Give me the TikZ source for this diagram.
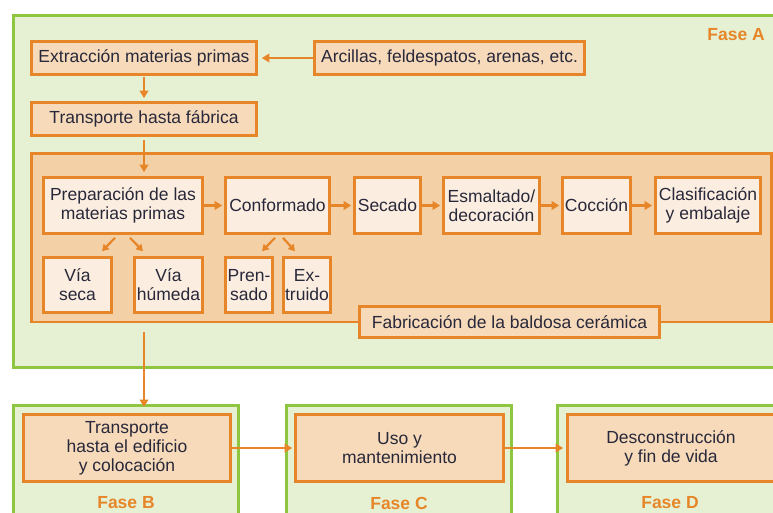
\documentclass[tikz,border=0pt]{standalone}
\usepackage{fontspec}
\setmainfont{Liberation Sans}
\usetikzlibrary{arrows.meta,calc}
\definecolor{oline}{RGB}{230,134,40}
\definecolor{boxfill}{RGB}{246,218,186}
\definecolor{bigfill}{RGB}{243,208,166}
\definecolor{innerfill}{RGB}{251,238,224}
\definecolor{gline}{RGB}{142,198,63}
\definecolor{gfill}{RGB}{230,241,212}
\definecolor{textc}{RGB}{40,40,58}
\newcommand{\fs}{\fontsize{17.5}{19}\selectfont}
\begin{document}
\begin{tikzpicture}[x=1pt,y=-1pt,
  box/.style={draw=oline, line width=2.6pt, fill=boxfill, text=textc, font=\fs,
    align=center, inner sep=1pt, anchor=center},
  wbox/.style={box, fill=innerfill},
  bigbox/.style={draw=oline, line width=2.6pt, fill=bigfill, inner sep=0pt},
  phase/.style={draw=gline, line width=3pt, fill=gfill, inner sep=0pt},
  phaselabel/.style={text=oline, font=\fs\bfseries, inner sep=0pt},
  arr/.style={draw=oline, line width=2.7pt, -{Triangle[length=7.5pt,width=8.5pt]}},
  sarr/.style={draw=oline, line width=2.2pt, -{Triangle[length=6.5pt,width=7.5pt]}}
]
\useasboundingbox (0,0) rectangle (773,512);
\clip (0,0) rectangle (773,512);

% phase frames
\node[phase, minimum width=786.5pt, minimum height=352pt] (faseA) at (406.75,191.5) {};
\node[phase, minimum width=225pt, minimum height=134.5pt] (faseB) at (126,472.75) {};
\node[phase, minimum width=225pt, minimum height=134.5pt] (faseC) at (399,472.75) {};
\node[phase, minimum width=225pt, minimum height=134.5pt] (faseD) at (670,472.75) {};

\node[phaselabel, anchor=east] (labA) at (765,34.5) {Fase A};
\node[phaselabel] (labB) at (126,503) {Fase B};
\node[phaselabel] (labC) at (399,503) {Fase C};
\node[phaselabel] (labD) at (670,503) {Fase D};

% big manufacturing box
\node[bigbox, minimum width=739.8pt, minimum height=168.5pt] (big) at (401.4,237.75) {};

% top boxes
\node[box, minimum width=225pt, minimum height=33pt] (ext) at (144,58) {Extracción materias primas};
\node[box, minimum width=270pt, minimum height=33pt] (arc) at (449.5,58) {Arcillas, feldespatos, arenas, etc.};
\node[box, minimum width=225pt, minimum height=33pt] (tfab) at (144,119) {Transporte hasta fábrica};

% process chain
\node[wbox, minimum width=159pt, minimum height=56pt] (prep) at (123,205.5) {Preparación de las\\materias primas};
\node[wbox, minimum width=104pt, minimum height=56pt] (conf) at (277.5,205.5) {Conformado};
\node[wbox, minimum width=66pt, minimum height=56pt] (sec) at (387.5,205.5) {Secado};
\node[wbox, minimum width=96pt, minimum height=56pt] (esm) at (491.5,205.5) {Esmaltado/\\decoración};
\node[wbox, minimum width=68pt, minimum height=56pt] (coc) at (596.5,205.5) {Cocción};
\node[wbox, minimum width=105pt, minimum height=56pt] (cla) at (708,205.5) {Clasificación\\y embalaje};

\node[wbox, minimum width=68pt, minimum height=55pt] (vseca) at (77.5,285) {Vía\\seca};
\node[wbox, minimum width=68pt, minimum height=55pt] (vhum) at (168.5,285) {Vía\\húmeda};
\node[wbox, minimum width=47pt, minimum height=55pt] (pren) at (249,285) {Pren-\\sado};
\node[wbox, minimum width=47pt, minimum height=55pt] (extr) at (307,285) {Ex-\\truido};

\node[box, minimum width=300pt, minimum height=31pt] (fab) at (509.5,322) {Fabricación de la baldosa cerámica};

% lower phases
\node[box, minimum width=207pt, minimum height=67pt] (tedi) at (127,448) {Transporte\\hasta el edificio\\y colocación};
\node[box, minimum width=208pt, minimum height=67pt] (uso) at (399.5,448) {Uso y\\mantenimiento};
\node[box, minimum width=207pt, minimum height=67pt] (desc) at (671,448) {Desconstrucción\\y fin de vida};

% connectors
\draw[arr, shorten >=4pt] (arc.west) -- (ext.east);
\draw[arr, shorten <=1pt, shorten >=3pt] (ext.south) -- (tfab.north);
\draw[arr, shorten <=3pt, shorten >=4pt] (tfab.south) -- (tfab.south |- prep.north);
\draw[arr, shorten >=2pt] (prep.east) -- (conf.west);
\draw[arr, shorten >=2pt] (conf.east) -- (sec.west);
\draw[arr, shorten >=2pt] (sec.east) -- (esm.west);
\draw[arr, shorten >=2pt] (esm.east) -- (coc.west);
\draw[arr, shorten >=2pt] (coc.east) -- (cla.west);

\draw[sarr] ([shift={(-8,3)}]prep.south) -- ([shift={(24.5,-5)}]vseca.north);
\draw[sarr] ([shift={(7,3)}]prep.south) -- ([shift={(-25.5,-5)}]vhum.north);
\draw[sarr] ([shift={(-2.5,3)}]conf.south) -- ([shift={(13,-5)}]pren.north);
\draw[sarr] ([shift={(5.5,3)}]conf.south) -- ([shift={(-12,-5)}]extr.north);

\draw[arr] ($(big.south -| tfab.south)+(0,9)$) -- ($(faseB.north -| tfab.south)+(0,3)$);
\draw[arr, shorten >=2pt] (tedi.east) -- (uso.west);
\draw[arr, shorten >=3pt] (uso.east) -- (desc.west);
\end{tikzpicture}
\end{document}
